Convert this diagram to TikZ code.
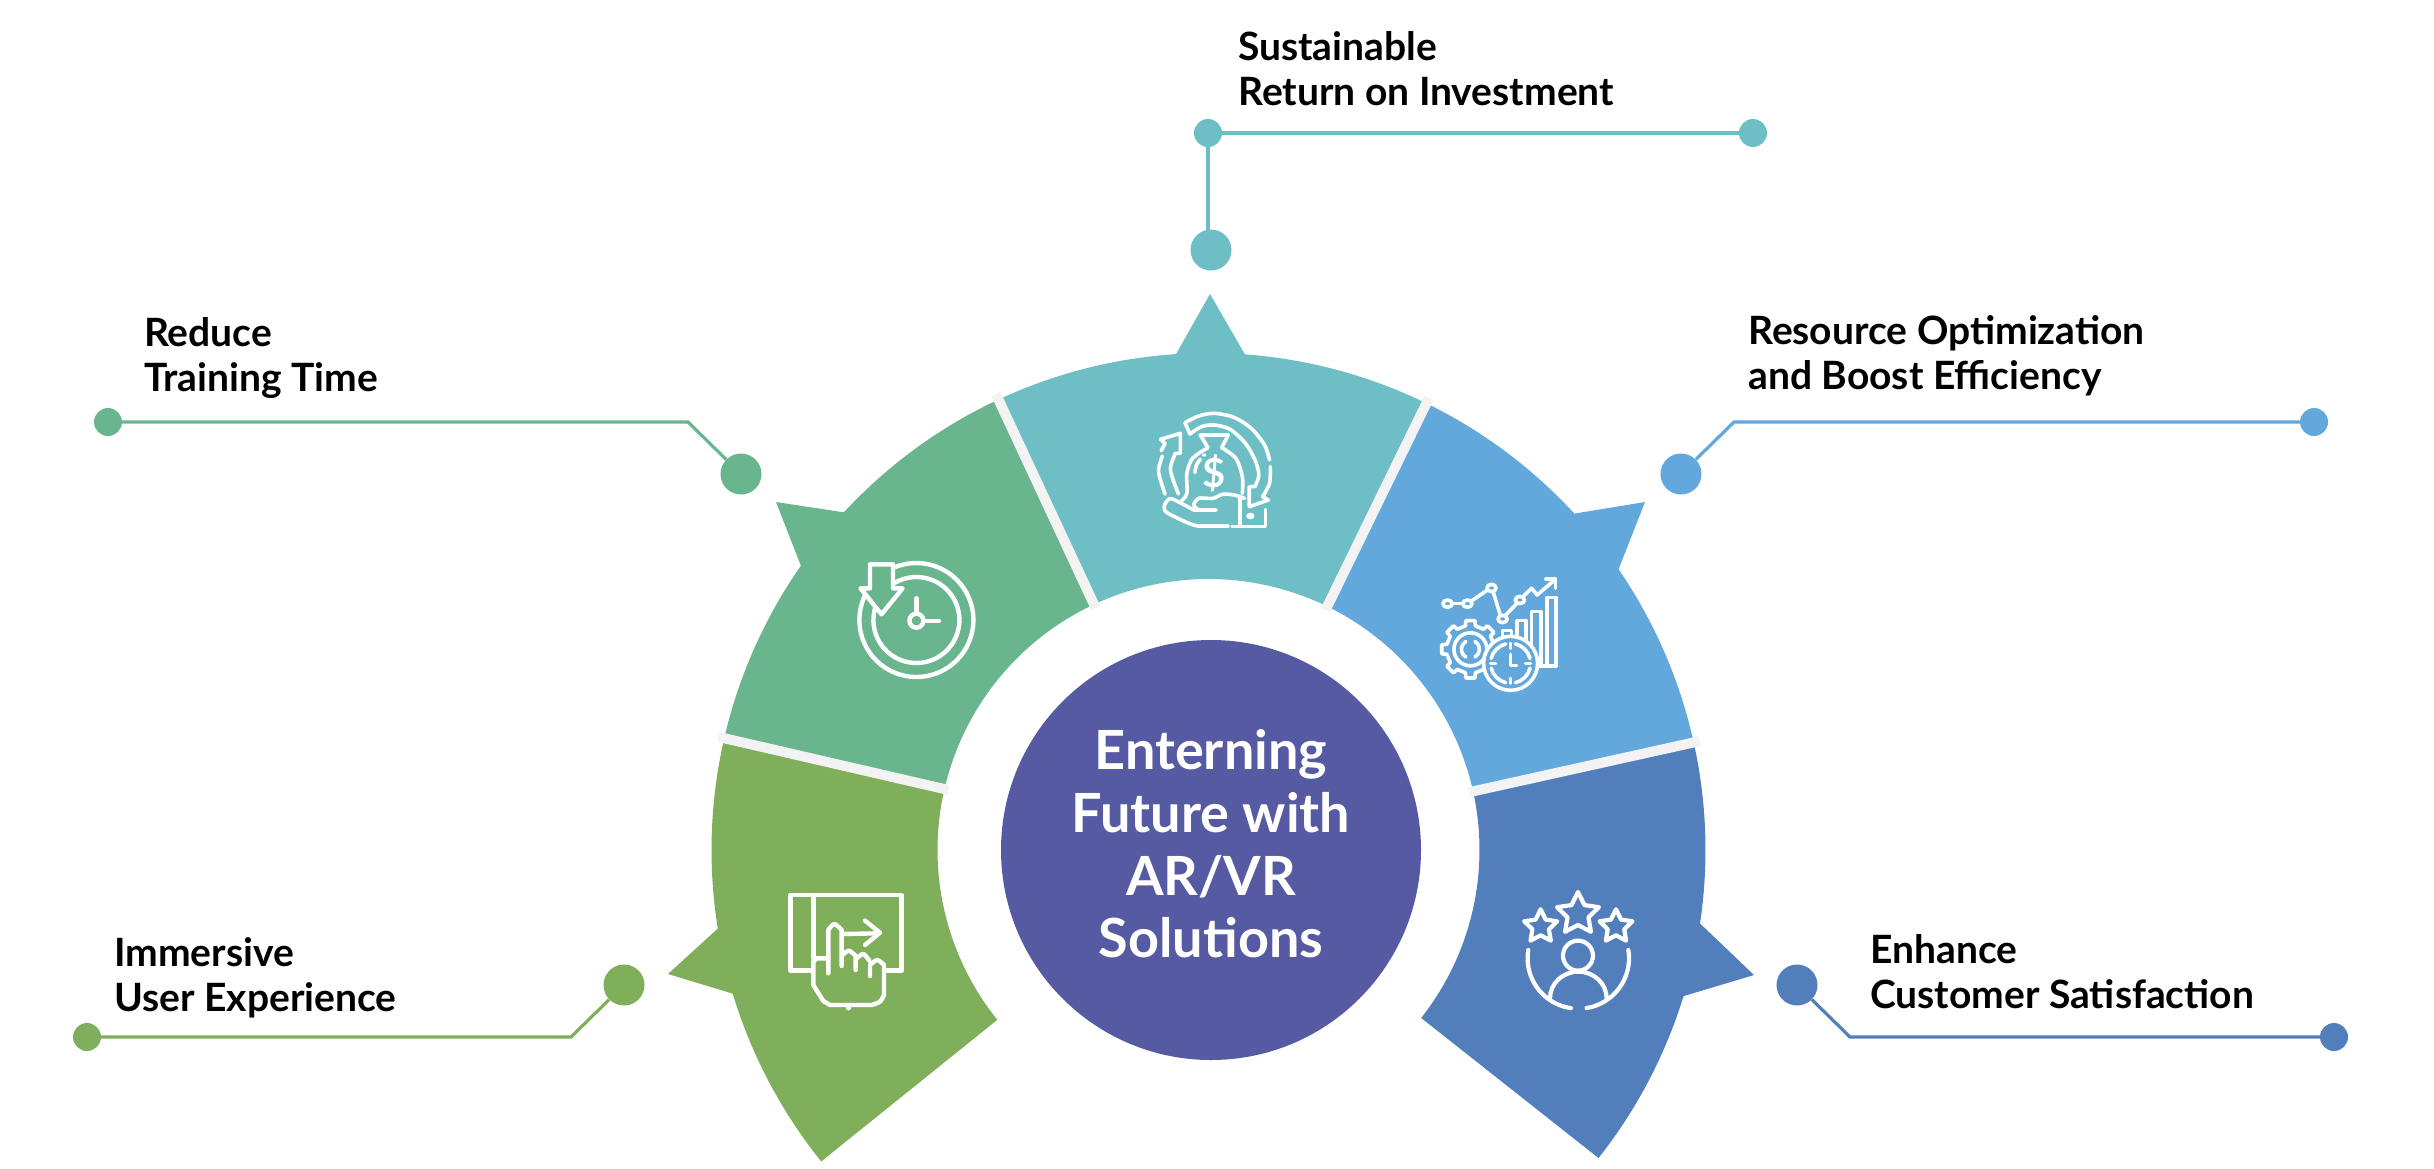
\documentclass[tikz,border=0pt]{standalone}
\usepackage{fontspec}
\setmainfont{Lato}
\usetikzlibrary{positioning}

\definecolor{greenc}{HTML}{7FAF5A}
\definecolor{mintc}{HTML}{69B58D}
\definecolor{tealc}{HTML}{6EBFC5}
\definecolor{skyc}{HTML}{62A8DC}
\definecolor{bluec}{HTML}{527FBC}
\definecolor{hubc}{HTML}{565AA2}
\definecolor{sepc}{HTML}{F3F3F3}

\tikzset{
  bigdot/.style={circle,inner sep=0pt,minimum size=41pt},
  smalldot/.style={circle,inner sep=0pt,minimum size=28pt},
  wire/.style={line width=3.2pt},
  toplabel/.style={anchor=base west,align=left,inner sep=0pt,font=\fontsize{39}{45}\selectfont\bfseries},
  icoline/.style={draw=white,line width=3.6pt,line cap=round,line join=round},
}

\newcommand{\ringseg}[7]{
  \fill[#1] (#2:497) arc[start angle=#2,end angle=#3,radius=497] -- (#4,#5) -- (#6:497)
    arc[start angle=#6,end angle=#7,radius=497] -- (#7:271)
    arc[start angle=#7,end angle=#2,radius=271] -- cycle;
}

\begin{document}
\begin{tikzpicture}[x=1pt,y=1pt,yscale=-1]
\useasboundingbox (0,0) rectangle (2434,1168);

% ring
\begin{scope}[shift={(1208.5,850)}]
\ringseg{greenc}{141.2}{163.2}{-540.5}{124}{170.9}{193}
\ringseg{mintc}{193}{214.9}{-432.5}{-348}{222.8}{245}
\ringseg{tealc}{245}{266.25}{1.5}{-556}{274.2}{296}
\ringseg{skyc}{296}{317.4}{436.5}{-348}{325.6}{347.5}
\ringseg{bluec}{347.5}{368.5}{545.5}{125}{377.1}{398.3}
\foreach \a in {193,245,296,347.5}
  \draw[sepc,line width=10pt] (\a:267) -- (\a:503);
\end{scope}

\node[circle,fill=hubc,inner sep=0pt,minimum size=420pt] (hub) at (1211,850) {};
\node[align=center,text=white,inner sep=0pt,font=\fontsize{54}{62.7}\selectfont\bfseries] (hubtext) at (1211,844)
  {Enterning\\Future with\\AR/VR\\Solutions};

% callouts
\node[bigdot,fill=tealc] (tealbig) at (1211,250) {};
\node[smalldot,fill=tealc] (tealtop) at (1208,133) {};
\node[smalldot,fill=tealc] (tealend) at (1753,133) {};
\draw[wire,tealc] (tealtop |- tealbig) -- (tealtop) -- (tealend);
\node[toplabel] (teallabel) at (1238,105.5) {Sustainable\\Return on Investment};

\node[bigdot,fill=mintc] (mintbig) at (741,474) {};
\node[smalldot,fill=mintc] (mintend) at (108,422) {};
\coordinate (mintbend) at (688,422);
\draw[wire,mintc] (mintbig) -- (mintbend) -- (mintend);
\node[toplabel] (mintlabel) at (144,391.5) {Reduce\\Training Time};

\node[bigdot,fill=skyc] (skybig) at (1681,474) {};
\node[smalldot,fill=skyc] (skyend) at (2314,422) {};
\coordinate (skybend) at (1734,422);
\draw[wire,skyc] (skybig) -- (skybend) -- (skyend);
\node[toplabel] (skylabel) at (1748,389.5) {Resource Optimization\\and Boost Efficiency};

\node[bigdot,fill=greenc] (greenbig) at (624,985) {};
\node[smalldot,fill=greenc] (greenend) at (87,1037) {};
\coordinate (greenbend) at (571,1037);
\draw[wire,greenc] (greenbig) -- (greenbend) -- (greenend);
\node[toplabel] (greenlabel) at (114,1011.5) {Immersive\\User Experience};

\node[bigdot,fill=bluec] (bluebig) at (1797,985) {};
\node[smalldot,fill=bluec] (blueend) at (2334,1037) {};
\coordinate (bluebend) at (1850,1037);
\draw[wire,bluec] (bluebig) -- (bluebend) -- (blueend);
\node[toplabel] (bluelabel) at (1870,1008.5) {Enhance\\Customer Satisfaction};

% clock icon
\begin{scope}[shift={(916.4,620)},icoline/.append style={line width=4.4pt}]
\draw[icoline] (-113:57) arc[start angle=-113,end angle=205.7,radius=57];
\draw[icoline] (-120:43) arc[start angle=-120,end angle=195.4,radius=43];
\draw[icoline] (-46.4,-55.7) -- (-23.4,-55.7) -- (-23.4,-31.7) -- (-13.8,-31.7) -- (-34.9,-5.7) -- (-55.9,-31.7) -- (-46.4,-31.7) -- cycle;
\draw[icoline] (0,0.7) circle (7);
\draw[icoline] (0,-21.7) -- (0,-8.3);
\draw[icoline] (9.9,0.7) -- (22.6,0.7);
\end{scope}

% money icon
\begin{scope}[shift={(1100,280)},xscale=.3827,yscale=.3333]
\draw[icoline] plot[smooth] coordinates {(445,560)(443,610)(425,650)} -- (440,660) -- (390,680) -- (390,620) -- (405,620)
  -- plot[smooth] coordinates {(405,620)(415,585)(405,540)(380,490)(340,448)(298,435)(265,440)(235,462)} -- (222,428);
\draw[icoline] plot[smooth] coordinates {(222,428)(258,408)(298,400)(350,412)(395,445)(430,495)(443,540)};
\draw[icoline] (160,512) -- (170,490) -- (158,478) -- (210,460) -- (210,520) -- (197,520)
  -- plot[smooth] coordinates {(197,520)(184,570)(205,642)};
\draw[icoline] plot[smooth] coordinates {(163,528)(153,575)(170,642)};
\draw[icoline] (282,503) -- (262,465) -- (335,465) -- (318,503);
\draw[icoline] plot[smooth] coordinates {(282,503)(242,535)(227,580)(227,640)(213,662)};
\draw[icoline] plot[smooth] coordinates {(318,503)(355,535)(372,590)(372,640)};
\draw[icoline] plot[smooth] coordinates {(248,578)(252,555)(262,538)};
\fill[white] (272,525) ellipse (6 and 5);
\node[text=white,inner sep=0pt,font=\fontsize{40}{40}\selectfont\bfseries] (moneysign) at (298,580) {\$};
\draw[icoline] (335,738) -- (255,738) -- plot[smooth] coordinates {(255,738)(232,730)(175,698)(168,678)(180,657)(195,660)(245,690)} -- (303,690);
\draw[icoline] plot[smooth] coordinates {(258,690)(245,675)(258,655)(295,655)(320,643)(350,645)(378,655)};
\draw[icoline] (365,650) -- (365,738);
\draw[icoline] (345,740) -- (432,740) -- (432,688);
\fill[white] (393,708) ellipse (11 and 10);
\end{scope}

% chart icon
\begin{scope}[shift={(1100,280)},xscale=.3827,yscale=.3333]
\foreach \x/\y in {908/971,960/971,1023/924,1052/1017,1097/960}
  \draw[icoline] (\x,\y) ellipse (12 and 11);
\draw[icoline] (920,971) -- (948,971);
\draw[icoline] (972,962) -- (1010,932);
\draw[icoline] (1028,938) -- (1045,1002);
\draw[icoline] (1060,1005) -- (1088,972);
\draw[icoline] (1105,950) -- (1128,925) -- (1142,945) -- (1188,900);
\draw[icoline] (1165,897) -- (1190,897) -- (1190,925);
\draw[icoline] (1052,1075) -- (1052,1052) -- (1075,1052) -- (1075,1075);
\draw[icoline] (1090,1085) -- (1090,1022) -- (1113,1022) -- (1113,1085);
\draw[icoline] (1127,1105) -- (1127,995) -- (1152,995) -- (1152,1155);
\draw[icoline] (1145,1158) -- (1192,1158) -- (1192,952) -- (1168,952) -- (1168,1155);
\end{scope}
\begin{scope}[shift={(1470.4,649.3)}]
\draw[icoline] (-12:24) \foreach \a in {0,45,...,315} { -- (\a-12:24) -- (\a-9:29) -- (\a+9:29) -- (\a+12:24)} -- cycle;
\draw[icoline] (0,0) circle (16.5);
\draw[icoline] (-60:9) arc[start angle=-60,end angle=60,radius=9];
\draw[icoline] (120:9) arc[start angle=120,end angle=240,radius=9];
\end{scope}
\begin{scope}[shift={(1510.6,663.3)}]
\draw[icoline,fill=skyc] (0,0) circle (27);
\foreach \a in {0,90,180,270} {
  \draw[icoline] (\a+14:20) arc[start angle=\a+14,end angle=\a+76,radius=20];
  \draw[icoline] (\a:20) -- (\a:15);
}
\draw[icoline] (0,-9) -- (0,2) -- (6,2);
\end{scope}

% touch icon
\begin{scope}[shift={(650,700)},scale=.3333,icoline/.append style={line width=4.4pt}]
\draw[icoline] (490,812) -- (422,812) -- (422,585) -- (755,585) -- (755,812) -- (705,812);
\draw[icoline] (490,585) -- (490,775);
\draw[icoline] (535,775) -- (500,775) -- (490,785) -- (490,855) -- (520,903) -- (540,915) -- (665,915)
  -- plot[smooth] coordinates {(665,915)(690,905)(702,885)} -- (702,795)
  -- plot[smooth] coordinates {(702,795)(682,780)(660,795)} -- (660,828);
\draw[icoline] (535,820) -- (535,690) -- plot[smooth] coordinates {(535,690)(553,672)(575,690)} -- (575,798);
\draw[icoline] plot[smooth] coordinates {(578,765)(597,752)(617,768)} -- (617,810);
\draw[icoline] plot[smooth] coordinates {(620,775)(640,762)(658,782)};
\draw[icoline] (578,702) -- (688,700);
\draw[icoline] (645,662) -- (690,698) -- (645,735);
\draw[icoline] (595,922) -- (595,925);
\end{scope}

% stars icon
\begin{scope}[shift={(1400,700)},scale=.3333,icoline/.append style={line width=4.2pt}]
\foreach \x/\y/\r in {534/642/66,422/680/52,648/680/52} {
  \begin{scope}[shift={(\x,\y)}]
  \draw[icoline] (-90:\r) \foreach \a in {0,72,...,288} { -- (\a-90:\r) -- (\a-54:.5*\r)} -- cycle;
  \end{scope}
}
\draw[icoline] (534,767) circle (45);
\draw[icoline] (450,895) arc[start angle=180,end angle=360,x radius=85,y radius=80];
\draw[icoline] (385,750) arc[start angle=189.5,end angle=98,radius=151];
\draw[icoline] (685,750) arc[start angle=-9.5,end angle=81,radius=151];
\end{scope}
\end{tikzpicture}
\end{document}
